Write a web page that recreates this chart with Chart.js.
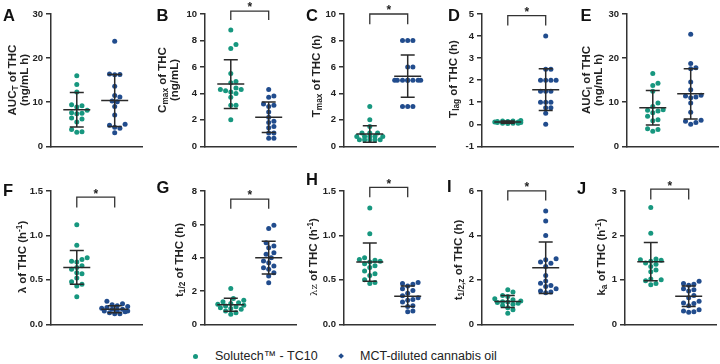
<!DOCTYPE html>
<html>
<head>
<meta charset="utf-8">
<script src="https://cdn.jsdelivr.net/npm/chart.js@4.4.0/dist/chart.umd.min.js"></script>
<style>
  html, body { margin:0; padding:0; background:#fff; }
  body { width:720px; height:364px; position:relative; overflow:hidden; font-family:"Liberation Sans", Arial, sans-serif; color:#222; }
  canvas { position:absolute; }
  .ttl { position:absolute; transform:translate(-50%,-50%) rotate(-90deg); white-space:nowrap; text-align:center; font-weight:bold; font-size:11.5px; line-height:12px; color:#222; }
  .ttl sub { font-size:0.72em; vertical-align:-0.25em; line-height:0; }
  .ttl sup { font-size:0.72em; vertical-align:0.45em; line-height:0; }
  .let { position:absolute; font-weight:bold; font-size:16.5px; line-height:16px; color:#111; }
  .leg { position:absolute; font-size:12.5px; line-height:14px; color:#222; white-space:nowrap; }
</style>
</head>
<body>
<script>
// ---------------- data ----------------
const groups = ["Solutech\u2122 - TC10", "MCT-diluted cannabis oil"];
const panelLetters = ["A","B","C","D","E","F","G","H","I","J"];

const aucTSolutech = [16.0, 14.0, 12.3, 9.4, 9.2, 8.2, 7.6, 7.5, 7.4, 6.4, 6.2, 5.5, 3.8, 3.3, 3.2, 8.9];
const aucTMct      = [23.8, 16.4, 16.3, 16.2, 13.6, 11.5, 11.2, 10.3, 10.1, 9.0, 7.1, 5.0, 4.8, 4.3, 4.1, 3.1];
const cmaxSolutech = [8.8, 7.7, 7.4, 5.5, 4.9, 4.8, 4.4, 4.3, 4.3, 4.2, 4.1, 4.0, 3.7, 3.1, 3.1, 2.0];
const cmaxMct      = [4.3, 3.8, 3.7, 3.2, 3.1, 3.0, 2.6, 2.2, 1.9, 1.8, 1.5, 1.4, 1.0, 1.0, 0.6, 0.6];
const tmaxSolutech = [3.0, 2.0, 1.5, 1.0, 1.0, 1.0, 0.75, 0.75, 0.75, 0.75, 0.75, 0.5, 0.5, 0.5, 0.5, 0.5];
const tmaxMct      = [8, 8, 8, 6, 6, 5, 5, 5, 5, 5, 5, 5, 5, 3, 3, 3];
const tlagSolutech = [0.17, 0.15, 0.15, 0.12, 0.12, 0.1, 0.1, 0.1, 0.1, 0.1, 0.08, 0.08, 0.05, 0.05, 0.05, 0.03];
const tlagMct      = [4.0, 2.5, 2.5, 2.0, 2.0, 2.0, 2.0, 1.5, 1.5, 1.5, 1.0, 1.0, 1.0, 0.75, 0.75, 0.5, 0.0];
const aucISolutech = [16.5, 14.3, 13.8, 12.5, 9.8, 9.0, 8.3, 8.2, 8.0, 7.6, 6.8, 6.0, 5.8, 4.0, 3.8, 3.4];
const aucIMct      = [25.4, 18.8, 17.8, 17.6, 14.6, 12.8, 11.6, 11.4, 11.2, 11.0, 9.8, 7.7, 5.9, 5.7, 5.4, 5.0];
const lambdaSolutech = [1.12, 0.89, 0.75, 0.73, 0.71, 0.70, 0.66, 0.64, 0.62, 0.58, 0.57, 0.52, 0.48, 0.45, 0.43, 0.31];
const lambdaMct      = [0.26, 0.23, 0.22, 0.21, 0.20, 0.19, 0.18, 0.17, 0.17, 0.16, 0.15, 0.15, 0.14, 0.13, 0.12, 0.12];
const thalfSolutech = [2.15, 1.55, 1.45, 1.35, 1.3, 1.25, 1.2, 1.15, 1.1, 1.05, 1.0, 0.95, 0.9, 0.8, 0.7, 0.6];
const thalfMct      = [5.95, 5.75, 4.9, 4.7, 4.6, 4.3, 4.2, 4.0, 3.8, 3.7, 3.5, 3.4, 3.3, 3.1, 2.9, 2.5];
const lambdaZSolutech = [1.31, 1.02, 0.75, 0.73, 0.72, 0.71, 0.70, 0.68, 0.66, 0.64, 0.60, 0.57, 0.55, 0.50, 0.47, 0.46];
const lambdaZMct      = [0.47, 0.46, 0.45, 0.43, 0.40, 0.38, 0.35, 0.32, 0.30, 0.28, 0.27, 0.25, 0.21, 0.20, 0.15, 0.14];
const thalfZSolutech = [1.55, 1.45, 1.3, 1.25, 1.15, 1.1, 1.05, 1.02, 1.0, 0.98, 0.95, 0.9, 0.85, 0.75, 0.65, 0.5];
const thalfZMct      = [5.1, 4.65, 4.0, 2.95, 2.9, 2.8, 2.75, 2.6, 2.2, 1.95, 1.85, 1.75, 1.7, 1.6, 1.5, 1.45, 1.42];
const kaSolutech = [2.63, 2.05, 1.47, 1.45, 1.44, 1.42, 1.38, 1.35, 1.3, 1.22, 1.18, 1.02, 1.0, 0.98, 0.92, 0.89];
const kaMct      = [0.97, 0.92, 0.9, 0.88, 0.8, 0.78, 0.75, 0.65, 0.6, 0.52, 0.48, 0.47, 0.42, 0.33, 0.3, 0.28, 0.27];

// mean and SD as drawn (A..J)
const meanSolutech = [8.3, 4.7, 0.93, 0.1, 8.75, 0.64, 1.17, 0.70, 1.03, 1.41];
const sdSolutech   = [3.9, 1.85, 0.63, 0.05, 3.9, 0.19, 0.39, 0.215, 0.27, 0.43];
const meanMct      = [10.4, 2.2, 5.3, 1.57, 11.9, 0.17, 4.0, 0.315, 2.55, 0.63];
const sdMct        = [5.9, 1.15, 1.6, 0.95, 5.7, 0.04, 0.98, 0.115, 1.16, 0.23];

// y axes (A..J)
const yMin  = [0, 0, 0, -1, 0, 0, 0, 0, 0, 0];
const yMax  = [30, 10, 10, 5, 30, 1.5, 8, 1.5, 6, 3];
const yStep = [10, 2, 2, 1, 10, 0.5, 2, 0.5, 2, 1];
const yDecimals = [0, 0, 0, 0, 0, 1, 0, 1, 0, 0];

// significance brackets (value of bar, value of leg ends); null = none
const bracketTop = [null, 10.22, 10.0, 4.93, null, 1.43, 7.51, 1.54, 6.01, 3.04];
const bracketLeg = [null, 9.55, 9.23, 4.48, null, 1.314, 6.93, 1.43, 5.57, 2.81];

const yTitles = [
  "AUC<sub>T</sub> of THC<br>(ng/mL h)",
  "C<sub>max</sub> of THC<br>(ng/mL)",
  "T<sub>max</sub> of THC (h)",
  "T<sub>lag</sub> of THC (h)",
  "AUC<sub>I</sub> of THC<br>(ng/mL h)",
  "\u03bb of THC (h<sup>-1</sup>)",
  "t<sub>1/2</sub> of THC (h)",
  "<span style='font-weight:normal;font-family:\"DejaVu Serif\",serif;font-size:10px'>\u03bbz</span> of THC (h<sup>-1</sup>)",
  "t<sub>1/2,z</sub> of THC (h)",
  "k<sub>a</sub> of THC (h<sup>-1</sup>)"
];

const solutechSeries = [aucTSolutech, cmaxSolutech, tmaxSolutech, tlagSolutech, aucISolutech, lambdaSolutech, thalfSolutech, lambdaZSolutech, thalfZSolutech, kaSolutech];
const mctSeries = [aucTMct, cmaxMct, tmaxMct, tlagMct, aucIMct, lambdaMct, thalfMct, lambdaZMct, thalfZMct, kaMct];

// ---------------- layout / style ----------------
const TEAL = "#17977f", BLUE = "#214c8d", AX = "#333333";
const axisX = [51, 205, 344, 482, 627, 51, 205, 344, 482, 625];
const rowTop = [14, 191], rowBottom = [147, 325];
const titleCX = [17.5, 167.5, 316, 453, 591.5, 21.5, 179, 312.5, 457.5, 601];
const titleCY = [80, 80, 76, 79, 80, 257, 260, 257, 260, 257];
const letterPos = [[3,7],[156.5,7],[306,7],[448,7],[580.5,7],[3,182],[156.5,179],[306,171],[447,178],[577,180]];
const PLOT_W = 91, PAD_TOP = 20, PAD_BOT = 8, YAXIS_W = 40;
const X_MIN = -0.68, X_MAX = 1.72;

Chart.defaults.font.family = '"Liberation Sans", Arial, sans-serif';

// beeswarm layout of points (pixel-based, computed from the values)
function swarm(values, group, ppuY, ppuX) {
  const dia = 5.2, step = 2.6, maxHalf = 15;
  const placed = [];
  const out = new Array(values.length);
  const order = values.map((v, i) => i).sort((a, b) => values[a] - values[b]);
  for (const i of order) {
    const py = values[i] * ppuY;
    let best = 0, bestOv = Infinity;
    outer:
    for (let k = 0; k <= 12; k++) {
      for (const s of (k === 0 ? [0] : [1, -1])) {
        const ox = s * k * step;
        if (Math.abs(ox) > maxHalf) continue;
        let ov = 0;
        for (const p of placed) {
          const d = Math.hypot(p.ox - ox, p.py - py);
          if (d < dia) ov += dia - d;
        }
        if (ov < bestOv - 1e-9) { bestOv = ov; best = ox; }
        if (ov === 0) break outer;
      }
    }
    placed.push({ ox: best, py });
    out[i] = { x: group + best / ppuX, y: values[i] };
  }
  return out;
}

const errPlugin = {
  id: 'errbars',
  afterDatasetsDraw(chart, args, opts) {
    const { ctx } = chart;
    const x = chart.scales.x, y = chart.scales.y;
    ctx.save();
    ctx.strokeStyle = '#2a2a2a';
    ctx.lineWidth = 1.5;
    ctx.lineCap = 'butt';
    opts.groups.forEach(g => {
      const cx = x.getPixelForValue(g.x);
      const ym = y.getPixelForValue(g.mean);
      const yt = y.getPixelForValue(g.mean + g.sd);
      const yb = y.getPixelForValue(g.mean - g.sd);
      ctx.beginPath();
      ctx.moveTo(cx - 13.5, ym); ctx.lineTo(cx + 13.5, ym);
      ctx.moveTo(cx, yt); ctx.lineTo(cx, yb);
      ctx.moveTo(cx - 7, yt); ctx.lineTo(cx + 7, yt);
      ctx.moveTo(cx - 7, yb); ctx.lineTo(cx + 7, yb);
      ctx.stroke();
    });
    if (opts.bracket) {
      const x0 = x.getPixelForValue(0), x1 = x.getPixelForValue(1);
      const yt = y.getPixelForValue(opts.bracket.top), yl = y.getPixelForValue(opts.bracket.leg);
      ctx.strokeStyle = '#333';
      ctx.lineWidth = 1.3;
      ctx.beginPath();
      ctx.moveTo(x0, yl); ctx.lineTo(x0, yt); ctx.lineTo(x1, yt); ctx.lineTo(x1, yl);
      ctx.stroke();
      ctx.fillStyle = '#222';
      ctx.font = 'bold 12px "Liberation Sans", Arial, sans-serif';
      ctx.textAlign = 'center';
      ctx.textBaseline = 'middle';
      ctx.fillText('*', (x0 + x1) / 2, yt - 3);
    }
    ctx.restore();
  }
};

for (let p = 0; p < 10; p++) {
  const row = p < 5 ? 0 : 1;
  const top = rowTop[row], bottom = rowBottom[row];
  const plotH = bottom - top;
  const cv = document.createElement('canvas');
  const W = YAXIS_W + PLOT_W + 4, H = plotH + PAD_TOP + PAD_BOT;
  cv.width = W; cv.height = H;
  cv.style.left = (axisX[p] - YAXIS_W) + 'px';
  cv.style.top = (top - PAD_TOP) + 'px';
  cv.style.width = W + 'px'; cv.style.height = H + 'px';
  document.body.appendChild(cv);

  const ppuY = plotH / (yMax[p] - yMin[p]);
  const ppuX = PLOT_W / (X_MAX - X_MIN);
  const dec = yDecimals[p];

  new Chart(cv, {
    type: 'scatter',
    data: {
      datasets: [
        { label: groups[0], data: swarm(solutechSeries[p], 0, ppuY, ppuX), backgroundColor: TEAL, borderWidth: 0, pointRadius: 2.5, pointHoverRadius: 2.5, clip: false },
        { label: groups[1], data: swarm(mctSeries[p], 1, ppuY, ppuX), backgroundColor: BLUE, borderWidth: 0, pointRadius: 2.5, pointHoverRadius: 2.5, clip: false }
      ]
    },
    options: {
      responsive: false, animation: false, events: [],
      layout: { padding: { left: 0, right: 4, top: PAD_TOP, bottom: PAD_BOT } },
      plugins: {
        legend: { display: false }, tooltip: { enabled: false },
        errbars: {
          groups: [
            { x: 0, mean: meanSolutech[p], sd: sdSolutech[p] },
            { x: 1, mean: meanMct[p], sd: sdMct[p] }
          ],
          bracket: bracketTop[p] === null ? null : { top: bracketTop[p], leg: bracketLeg[p] }
        }
      },
      scales: {
        x: {
          type: 'linear', min: X_MIN, max: X_MAX,
          ticks: { display: false }, grid: { display: false },
          border: { display: true, color: AX, width: 1.5 },
          afterFit(s) { s.height = 0; }
        },
        y: {
          min: yMin[p], max: yMax[p],
          ticks: { stepSize: yStep[p], color: '#222', font: { size: 9.5, weight: 'bold' }, padding: 3,
                   callback: v => Number(v).toFixed(dec) },
          grid: { display: true, drawOnChartArea: false, drawTicks: true, tickLength: 5, color: AX, lineWidth: 1.5 },
          border: { display: true, color: AX, width: 1.5 },
          afterFit(s) { s.width = YAXIS_W; }
        }
      }
    },
    plugins: [errPlugin]
  });

  const t = document.createElement('div');
  t.className = 'ttl';
  t.innerHTML = yTitles[p];
  t.style.left = titleCX[p] + 'px';
  t.style.top = titleCY[p] + 'px';
  document.body.appendChild(t);

  const l = document.createElement('div');
  l.className = 'let';
  l.textContent = panelLetters[p];
  l.style.left = letterPos[p][0] + 'px';
  l.style.top = letterPos[p][1] + 'px';
  document.body.appendChild(l);
}

// legend
const legItems = [
  { text: groups[0], color: TEAL, shape: 'circle', mx: 195, tx: 215 },
  { text: groups[1], color: BLUE, shape: 'diamond', mx: 341, tx: 360 }
];
legItems.forEach(it => {
  const m = document.createElement('div');
  m.style.position = 'absolute';
  m.style.background = it.color;
  if (it.shape === 'circle') {
    m.style.width = '5px'; m.style.height = '5px'; m.style.borderRadius = '50%';
    m.style.left = (it.mx - 2.5) + 'px'; m.style.top = '353.5px';
  } else {
    m.style.width = '4.2px'; m.style.height = '4.2px'; m.style.transform = 'rotate(45deg)';
    m.style.left = (it.mx - 2.1) + 'px'; m.style.top = '353.9px';
  }
  document.body.appendChild(m);
  const tx = document.createElement('div');
  tx.className = 'leg';
  tx.textContent = it.text;
  tx.style.left = it.tx + 'px';
  tx.style.top = '349px';
  document.body.appendChild(tx);
});
</script>
</body>
</html>
